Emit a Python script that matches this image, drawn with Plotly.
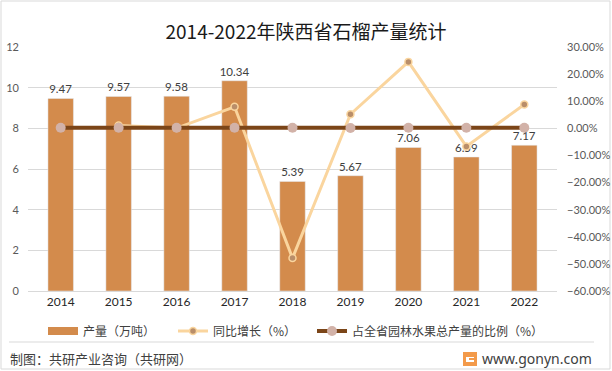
import plotly.graph_objects as go

years = ["2014", "2015", "2016", "2017", "2018", "2019", "2020", "2021", "2022"]
output_wt = [9.47, 9.57, 9.58, 10.34, 5.39, 5.67, 7.06, 6.59, 7.17]
growth_pct = [None, 1.06, 0.10, 7.93, -47.87, 5.19, 24.51, -6.66, 8.80]
share_pct = [0.20, 0.20, 0.20, 0.20, 0.20, 0.10, 0.20, 0.20, 0.20]

title = "2014-2022年陕西省石榴产量统计"
name_bar = "产量（万吨）"
name_growth = "同比增长（%）"
name_share = "占全省园林水果总产量的比例（%）"
source = "制图：共研产业咨询（共研网）"
site = "www.gonyn.com"

W, H = 612, 371
ML, MR, MT, MB = 28, 55, 47, 80
PW, PH = W - ML - MR, H - MT - MB


def px(x):
    return (x - ML) / PW


def py(y):
    return (H - MB - y) / PH


BAR = "#D38B4C"
GROW = "#FAD59E"
GROW_MK = "#B98E6A"
SHARE = "#7B4518"
SHARE_MK = "#D2B2A8"
FONT = "Lato, Noto Sans CJK SC, sans-serif"
CJK = "Noto Sans CJK SC, sans-serif"

fig = go.Figure()
fig.add_trace(go.Bar(
    x=years, y=output_wt, marker_color=BAR, width=0.44,
    text=[f"{v:.2f}" for v in output_wt], textposition="outside",
    textfont=dict(size=11.5, color="#404040", family=FONT),
    constraintext="none",
    cliponaxis=False, showlegend=False, name=name_bar,
))
# legend proxy for the bar series (wide swatch)
fig.add_trace(go.Scatter(
    x=[None], y=[None], mode="lines", line=dict(color=BAR, width=8),
    name=name_bar, legendwidth=85,
))
fig.add_trace(go.Scatter(
    x=years, y=[None if v is None else v / 100 for v in growth_pct],
    yaxis="y2", mode="lines+markers", name=name_growth,
    line=dict(color=GROW, width=3),
    marker=dict(size=7, color=GROW_MK, line=dict(color=GROW, width=1.5)),
    legendwidth=94, cliponaxis=False,
))
fig.add_trace(go.Scatter(
    x=years, y=[v / 100 for v in share_pct],
    yaxis="y2", mode="lines+markers", name=name_share,
    line=dict(color=SHARE, width=4),
    marker=dict(size=10, color=SHARE_MK),
    cliponaxis=False,
))

fig.update_layout(
    width=W, height=H,
    margin=dict(l=ML, r=MR, t=MT, b=MB, autoexpand=False),
    paper_bgcolor="white", plot_bgcolor="white",
    font=dict(family=FONT, size=12, color="#404040"),
    title=dict(text=title, x=0.5, xanchor="center", y=1 - 32 / H, yanchor="middle",
               font=dict(family=CJK, size=19, color="#1a1a1a")),
    xaxis=dict(type="category", showgrid=False, ticks="", showline=True,
               linecolor="#D9D9D9", linewidth=1, automargin=False,
               tickfont=dict(size=12, color="#262626", family=FONT)),
    yaxis=dict(range=[0, 12], dtick=2, showgrid=True, gridcolor="#D9D9D9",
               gridwidth=1, zeroline=False, ticks="", showline=False,
               automargin=False, ticklabelstandoff=8,
               tickfont=dict(size=11, color="#595959", family=FONT)),
    yaxis2=dict(range=[-0.6, 0.3], dtick=0.1, tickformat=".2%", overlaying="y",
                side="right", showgrid=False, zeroline=False, ticks="",
                automargin=False, ticklabelstandoff=9,
                tickfont=dict(size=11, color="#595959", family=FONT)),
    bargap=0.56,
    legend=dict(orientation="h", x=px(43), xanchor="left", y=py(331), yanchor="middle",
                font=dict(family=CJK, size=12, color="#404040"),
                itemwidth=30, bgcolor="rgba(0,0,0,0)", traceorder="normal"),
    showlegend=True,
)

shapes = [
    dict(type="rect", xref="paper", yref="paper", x0=px(1), x1=px(610), y0=py(369), y1=py(1),
         line=dict(color="#D9D9D9", width=1), fillcolor="rgba(0,0,0,0)", layer="below"),
    dict(type="line", xref="paper", yref="paper", x0=px(9), x1=px(594), y0=py(342), y1=py(342),
         line=dict(color="#D9D9D9", width=1)),
    dict(type="rect", xref="paper", yref="paper", x0=px(463), x1=px(477), y0=py(366), y1=py(352),
         line=dict(width=0), fillcolor="#F39A4A"),
    dict(type="rect", xref="paper", yref="paper", x0=px(466), x1=px(474), y0=py(362), y1=py(357),
         line=dict(width=0), fillcolor="white"),
    dict(type="rect", xref="paper", yref="paper", x0=px(469), x1=px(477), y0=py(360), y1=py(358),
         line=dict(width=0), fillcolor="#F39A4A"),
]
fig.update_layout(shapes=shapes)

fig.add_annotation(text=source, xref="paper", yref="paper", x=px(8), y=py(358),
                   xanchor="left", yanchor="middle", showarrow=False,
                   font=dict(family=CJK, size=13, color="#404040"))
fig.add_annotation(text=site, xref="paper", yref="paper", x=px(594), y=py(358),
                   xanchor="right", yanchor="middle", showarrow=False,
                   font=dict(family="Noto Sans, sans-serif", size=14, color="#404040"))

fig.write_html("out.html", config={"displayModeBar": False},
               post_script="document.body.style.margin='0';document.body.style.overflow='hidden';")
